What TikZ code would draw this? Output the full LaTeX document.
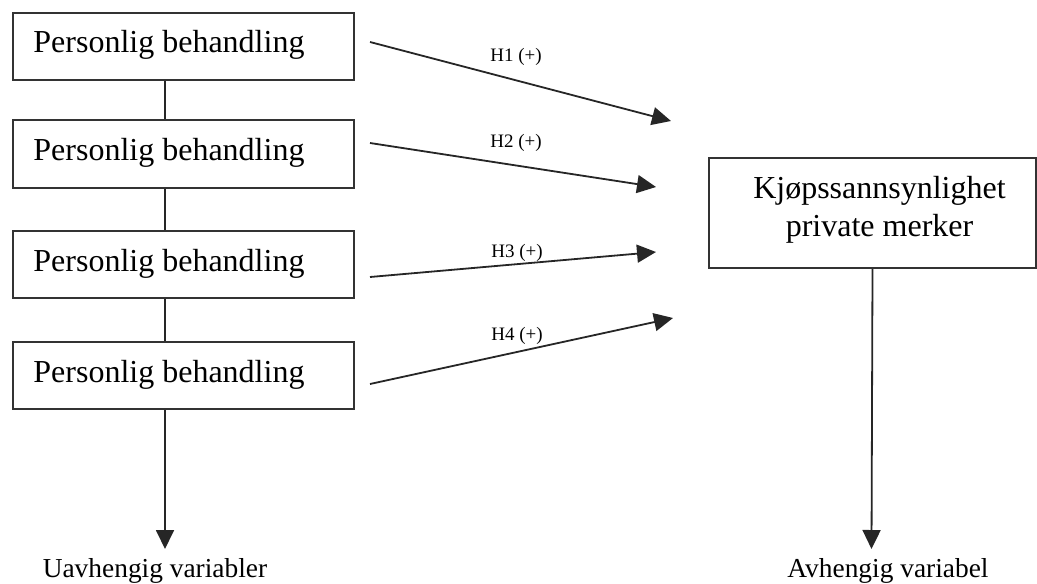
\documentclass[tikz,border=0pt]{standalone}
\usepackage{fontspec}
\setmainfont{Liberation Serif}
\usetikzlibrary{arrows.meta}
\tikzset{
  box/.style={draw=black!80, line width=1pt, rectangle, inner sep=0pt, anchor=north west},
  boxtext/.style={inner sep=0pt, anchor=base west, font=\fontsize{16}{19}\selectfont},
  rtext/.style={inner sep=0pt, anchor=base, font=\fontsize{16}{19}\selectfont},
  hlabel/.style={inner sep=0pt, anchor=base, font=\fontsize{9.5}{11}\selectfont},
  varlabel/.style={inner sep=0pt, anchor=base, font=\fontsize{13.7}{16}\selectfont},
  conn/.style={draw=black!85, line width=0.9pt},
  arr/.style={conn, -{Triangle[length=9.5pt, width=9pt]}}
}
\begin{document}
\begin{tikzpicture}[x=0.5pt, y=-0.5pt]
\useasboundingbox (0,0) rectangle (1037,583);
% left boxes
\node[box, minimum width=170.5pt, minimum height=33.5pt] (b1) at (12,12) {};
\node[box, minimum width=170.5pt, minimum height=34pt] (b2) at (12,119) {};
\node[box, minimum width=170.5pt, minimum height=33.5pt] (b3) at (12,230) {};
\node[box, minimum width=170.5pt, minimum height=33.5pt] (b4) at (12,341) {};
\node[boxtext] (t1) at (33,53) {Personlig behandling};
\node[boxtext] (t2) at (33,160) {Personlig behandling};
\node[boxtext] (t3) at (33,271) {Personlig behandling};
\node[boxtext] (t4) at (33,382) {Personlig behandling};
% right box
\node[box, minimum width=163.5pt, minimum height=55pt] (r) at (708,157) {};
\node[rtext] (k1) at (879.5,198) {Kjøpssannsynlighet};
\node[rtext] (k2) at (879.5,236) {private merker};
% vertical connectors
\coordinate (lx) at (165,0);
\draw[conn] (b1.south -| lx) -- (b2.north -| lx);
\draw[conn] (b2.south -| lx) -- (b3.north -| lx);
\draw[conn] (b3.south -| lx) -- (b4.north -| lx);
\coordinate (lt) at (165,549);
\draw[arr] (b4.south -| lx) -- (lt);
\coordinate (rt) at (871.5,549);
\draw[arr] (r.south) -- (rt);
\node[varlabel] (uv) at (155,577) {Uavhengig variabler};
\node[varlabel] (av) at (888,577) {Avhengig variabel};
% hypothesis arrows
\coordinate (s1) at (370,42);  \coordinate (e1) at (671,121);
\coordinate (s2) at (370,143); \coordinate (e2) at (656,187);
\coordinate (s3) at (370,277); \coordinate (e3) at (656,252);
\coordinate (s4) at (370,384); \coordinate (e4) at (673,318);
\draw[arr] (s1) -- (e1);
\draw[arr] (s2) -- (e2);
\draw[arr] (s3) -- (e3);
\draw[arr] (s4) -- (e4);
\node[hlabel] (h1) at (516,62) {H1 (+)};
\node[hlabel] (h2) at (516,147) {H2 (+)};
\node[hlabel] (h3) at (517,257) {H3 (+)};
\node[hlabel] (h4) at (517,340) {H4 (+)};
\end{tikzpicture}
\end{document}
